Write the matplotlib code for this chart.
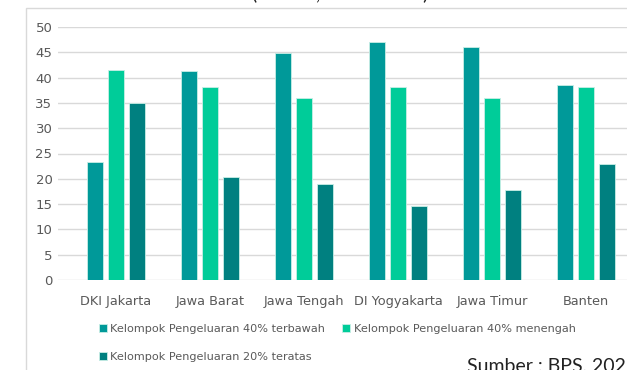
import matplotlib.pyplot as plt
import matplotlib.patches as mpatches
import numpy as np

# Data
provinces = ['DKI Jakarta', 'Jawa Barat', 'Jawa Tengah', 'DI Yogyakarta', 'Jawa Timur', 'Banten']
bawah = [23.4, 41.3, 44.8, 47.0, 46.1, 38.6]
menengah = [41.6, 38.1, 36.0, 38.2, 35.9, 38.2]
atas = [34.9, 20.4, 18.9, 14.7, 17.7, 22.9]

series_names = ['Kelompok Pengeluaran 40% terbawah',
                'Kelompok Pengeluaran 40% menengah',
                'Kelompok Pengeluaran 20% teratas']
colors = ['#009999', '#00cc99', '#008080']
yticks = [0, 5, 10, 15, 20, 25, 30, 35, 40, 45, 50]

plt.rcParams['font.family'] = ['DejaVu Sans']

W, H = 627, 370
fig = plt.figure(figsize=(W / 100, H / 100), dpi=100)
ax = fig.add_axes([58 / W, 1 - 280 / H, 1 - 58 / W, (280 - 27) / H])

# chart frame (only left and top edges visible in the crop)
frame = mpatches.Rectangle((26 / W, -0.1), 1.2, 1 - 8 / H + 0.1, transform=fig.transFigure,
                           fill=False, edgecolor='#d9d9d9', linewidth=1.0, zorder=0)
fig.patches.append(frame)

x = np.arange(len(provinces))
w = 0.177
step = 0.222
for i, (vals, name, c) in enumerate(zip([bawah, menengah, atas], series_names, colors)):
    ax.bar(x + (i - 1) * step, vals, width=w, color=c, edgecolor='#c8eee6',
           linewidth=0.6, label=name, zorder=3)

ax.set_xlim(-0.617, -0.617 + 569 / 94)
ax.set_ylim(0, 50)
ax.set_yticks(yticks)
ax.set_xticks(x)
ax.set_xticklabels(provinces)
ax.grid(axis='y', color='#d9d9d9', linewidth=1.0, zorder=0)
ax.tick_params(length=0, labelsize=9.5, colors='#595959', pad=4)
ax.tick_params(axis='x', labelsize=9.3, pad=11)
for s in ax.spines.values():
    s.set_visible(False)

# title, cut off by the top edge of the picture (only descenders show)
fig.text(340 / W, 1 + 1 / H, '(Persen, 2019-2020)', ha='center', va='baseline',
         fontsize=14, color='#222222', family='Lato')

h, l = ax.get_legend_handles_labels()
order = [0, 2, 1]
leg = fig.legend([h[k] for k in order], [l[k] for k in order], ncol=2,
                 loc='center left', bbox_to_anchor=(99 / W, 1 - 343 / H),
                 borderaxespad=0, borderpad=0,
                 frameon=False, fontsize=8.1, handlelength=0.72, handleheight=0.72,
                 handletextpad=0.3, columnspacing=1.5, labelspacing=1.55,
                 labelcolor='#595959')

fig.text(467 / W, 1 - 371 / H, 'Sumber : BPS, 2021', fontsize=14, color='#222222',
         va='baseline', ha='left', family='Lato')

fig.savefig('out.png', dpi=100)
